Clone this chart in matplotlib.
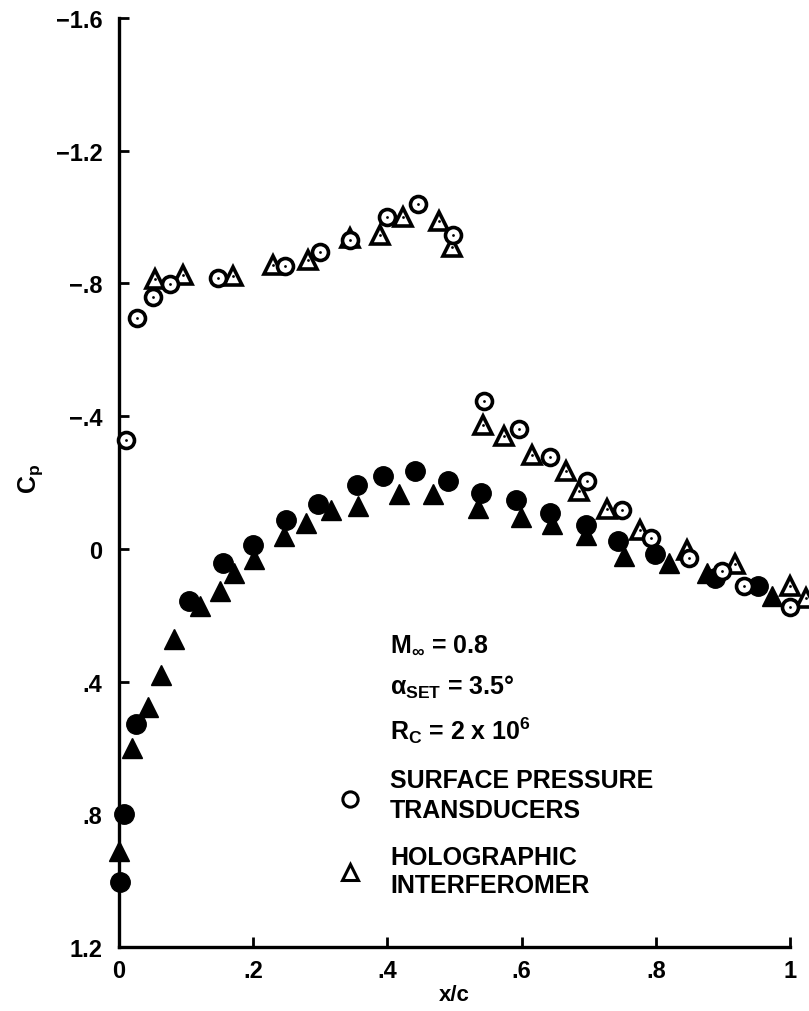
import matplotlib
matplotlib.use("Agg")
import matplotlib.pyplot as plt

plt.rcParams['font.family'] = ['Liberation Sans', 'DejaVu Sans']
plt.rcParams['font.weight'] = 'bold'
plt.rcParams['mathtext.fontset'] = 'custom'
plt.rcParams['mathtext.rm'] = 'Liberation Sans:bold'
plt.rcParams['mathtext.it'] = 'Liberation Sans:bold'
plt.rcParams['mathtext.bf'] = 'Liberation Sans:bold'

# Surface pressure transducers, open circles
spt_open_x = [0.010, 0.027, 0.050, 0.076, 0.148, 0.248, 0.299, 0.345, 0.399, 0.445, 0.498,
              0.544, 0.596, 0.642, 0.697, 0.749, 0.793, 0.849, 0.899, 0.931, 1.000]
spt_open_cp = [-0.329, -0.696, -0.759, -0.798, -0.816, -0.854, -0.894, -0.932, -1.000, -1.039, -0.945,
               -0.447, -0.362, -0.276, -0.204, -0.117, -0.033, 0.027, 0.067, 0.112, 0.176]

# Holographic interferometer, open triangles
hol_open_x = [0.053, 0.096, 0.170, 0.229, 0.282, 0.344, 0.389, 0.423, 0.477, 0.496,
              0.543, 0.574, 0.615, 0.666, 0.685, 0.727, 0.777, 0.846, 0.918, 1.000, 1.024]
hol_open_cp = [-0.814, -0.824, -0.821, -0.856, -0.871, -0.937, -0.945, -1.000, -0.989, -0.910,
               -0.374, -0.339, -0.284, -0.234, -0.174, -0.121, -0.058, 0.002, 0.047, 0.112, 0.148]

# Surface pressure transducers, filled circles
spt_fill_x = [0.002, 0.008, 0.025, 0.105, 0.155, 0.200, 0.249, 0.296, 0.354, 0.394, 0.441,
              0.491, 0.540, 0.591, 0.642, 0.696, 0.744, 0.799, 0.888, 0.953]
spt_fill_cp = [1.003, 0.800, 0.529, 0.158, 0.042, -0.013, -0.088, -0.136, -0.192, -0.219, -0.234,
               -0.206, -0.169, -0.148, -0.108, -0.073, -0.025, 0.017, 0.087, 0.112]

# Holographic interferometer, filled triangles
hol_fill_x = [0.000, 0.020, 0.043, 0.063, 0.082, 0.120, 0.151, 0.172, 0.201, 0.246, 0.279, 0.316,
              0.356, 0.418, 0.468, 0.535, 0.599, 0.645, 0.696, 0.752, 0.819, 0.876, 0.973]
hol_fill_cp = [0.911, 0.599, 0.477, 0.379, 0.273, 0.173, 0.127, 0.072, 0.032, -0.038, -0.078, -0.118,
               -0.128, -0.164, -0.164, -0.123, -0.095, -0.075, -0.043, 0.022, 0.042, 0.072, 0.142]

x_ticks = [0, 0.2, 0.4, 0.6, 0.8, 1.0]
x_tick_labels = ['0', '.2', '.4', '.6', '.8', '1']
y_ticks = [-1.6, -1.2, -0.8, -0.4, 0, 0.4, 0.8, 1.2]
y_tick_labels = ['\u22121.6', '\u22121.2', '\u2212.8', '\u2212.4', '0', '.4', '.8', '1.2']

fig = plt.figure(figsize=(8.09, 10.12), dpi=100)
ax = fig.add_axes([119/809, 1 - 948/1012, 671/809, (948 - 19)/1012])
ax.set_xlim(0, 1)
ax.set_ylim(1.2, -1.6)

for s in ['top', 'right']:
    ax.spines[s].set_visible(False)
for s in ['left', 'bottom']:
    ax.spines[s].set_linewidth(2.4)

ax.set_xticks(x_ticks)
ax.set_xticklabels(x_tick_labels)
ax.set_yticks(y_ticks)
ax.set_yticklabels(y_tick_labels)
ax.tick_params(direction='in', length=7, width=2, labelsize=17)
ax.tick_params(axis='y', pad=12)
ax.tick_params(axis='x', pad=9)
for lab in ax.get_xticklabels() + ax.get_yticklabels():
    lab.set_fontweight('bold')

ax.set_xlabel('x/c', fontsize=16, fontweight='bold', labelpad=1)
ax.set_ylabel(r'C$_\mathrm{p}$', fontsize=18, fontweight='bold')
ax.yaxis.set_label_coords(-0.11, 0.505)

# filled markers
ax.plot(hol_fill_x, hol_fill_cp, linestyle='none', marker='^', ms=14, mfc='black',
        mec='black', clip_on=False, zorder=3)
ax.plot(spt_fill_x, spt_fill_cp, linestyle='none', marker='o', ms=14, mfc='black',
        mec='black', clip_on=False, zorder=3)

# open markers with center dots
ax.plot(hol_open_x, hol_open_cp, linestyle='none', marker='^', ms=13, mfc='white',
        mec='black', mew=2.6, clip_on=False, zorder=4)
ax.plot(hol_open_x, hol_open_cp, linestyle='none', marker='o', ms=2, mfc='black',
        mec='black', mew=0, clip_on=False, zorder=5)
ax.plot(spt_open_x, spt_open_cp, linestyle='none', marker='o', ms=11.5, mfc='white',
        mec='black', mew=2.6, clip_on=False, zorder=6)
ax.plot(spt_open_x, spt_open_cp, linestyle='none', marker='o', ms=2, mfc='black',
        mec='black', mew=0, clip_on=False, zorder=7)

# annotation text
tx = (390 - 119) / 671
def ycp(py):
    return (py - 550) / 332

ax.text(tx, ycp(645), r'M$_{\infty}$ = 0.8', fontsize=18, va='center', ha='left')
ax.text(tx, ycp(688), r'$\alpha_{\mathrm{SET}}$ = 3.5°', fontsize=18, va='center', ha='left')
ax.text(tx, ycp(731), r'R$_{\mathrm{C}}$ = 2 x 10$^{6}$', fontsize=18, va='center', ha='left')
ax.text(tx, ycp(796), 'SURFACE PRESSURE\nTRANSDUCERS', fontsize=18, va='center', ha='left',
        linespacing=1.3)
ax.text(tx, ycp(872), 'HOLOGRAPHIC\nINTERFEROMER', fontsize=18, va='center', ha='left',
        linespacing=1.2)
lx = (350 - 119) / 671
ax.plot([lx], [ycp(800)], marker='o', ms=11, mfc='white', mec='black', mew=2.2,
        linestyle='none')
ax.plot([lx], [ycp(873)], marker='^', ms=12, mfc='white', mec='black', mew=2.2,
        linestyle='none')

fig.savefig('out.png', dpi=100)
